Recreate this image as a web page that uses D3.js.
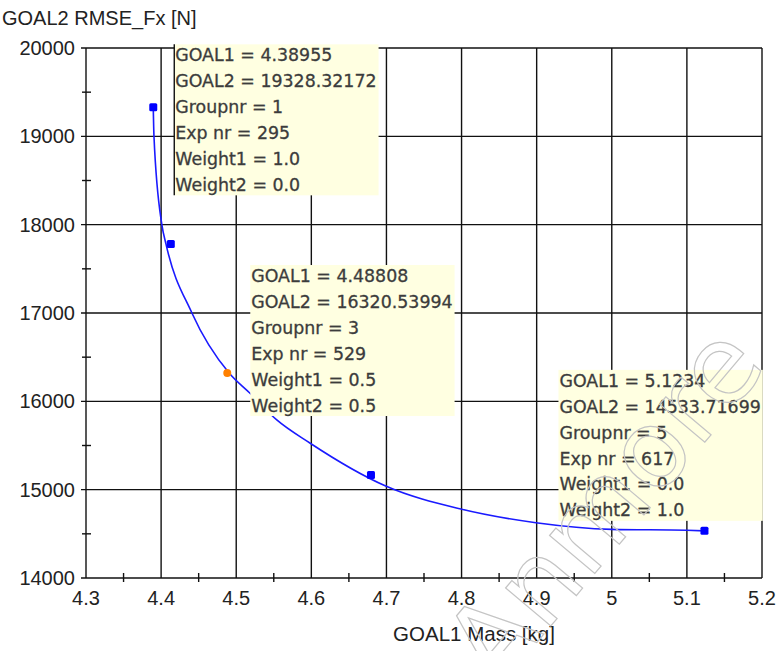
<!DOCTYPE html>
<html>
<head>
<meta charset="utf-8">
<script src="https://cdn.jsdelivr.net/npm/d3@7"></script>
<style>
  body { margin: 0; background: #fff; }
  svg { display: block; }
</style>
</head>
<body>
<div id="chart"></div>
<script>
// Define constants
const WIDTH = 777;
const HEIGHT = 651;

// Pareto points (GOAL1 mass, GOAL2 RMSE)
const pointGoal1 = [4.38955, 4.4129, 4.48808, 4.6794, 5.1234];
const pointGoal2 = [19328.32172, 17781, 16320.53994, 15166, 14533.71699];
const pointSelected = [false, false, true, false, false];

// fitted front
const frontGoal1 = [4.38955, 4.3905, 4.401, 4.4065, 4.441, 4.4905, 4.518, 4.554, 4.598, 4.699, 4.799, 4.899, 5.0, 5.1, 5.1234];
const frontGoal2 = [19328, 19000, 18000, 17780, 17000, 16320, 16094, 15789, 15528, 15041, 14781, 14626, 14551, 14540, 14533.7];

// tooltips
const tipPoint = [0, 2, 4];
const tipGoal1 = ["4.38955", "4.48808", "5.1234"];
const tipGoal2 = ["19328.32172", "16320.53994", "14533.71699"];
const tipGroup = ["1", "3", "5"];
const tipExp = ["295", "529", "617"];
const tipWeight1 = ["1.0", "0.5", "0.0"];
const tipWeight2 = ["0.0", "0.5", "1.0"];

// axes
const xTicks = [4.3, 4.4, 4.5, 4.6, 4.7, 4.8, 4.9, 5, 5.1, 5.2];
const yTicks = [14000, 15000, 16000, 17000, 18000, 19000, 20000];
const xTitle = "GOAL1 Mass [kg]";
const yTitle = "GOAL2 RMSE_Fx [N]";
const watermark = "Anmore";

const svg = d3.select("#chart")
  .append("svg")
  .attr("width", WIDTH)
  .attr("height", HEIGHT);

const x = d3.scaleLinear().domain([4.3, 5.2]).range([86, 762]);
const y = d3.scaleLinear().domain([14000, 20000]).range([578, 48]);

const AXIS_FONT = "'Liberation Sans', Arial, sans-serif";

// Grid lines
svg.append("g")
  .selectAll("line")
  .data(xTicks)
  .join("line")
  .attr("x1", d => x(d)).attr("x2", d => x(d))
  .attr("y1", y(20000)).attr("y2", y(14000))
  .attr("stroke", "#111").attr("stroke-width", 1.4);

svg.append("g")
  .selectAll("line")
  .data(yTicks)
  .join("line")
  .attr("x1", x(4.3) - 5).attr("x2", x(5.2))
  .attr("y1", d => y(d)).attr("y2", d => y(d))
  .attr("stroke", "#111").attr("stroke-width", 1.4);

// minor ticks
const xMinor = d3.range(0, xTicks.length - 1).map(i => (xTicks[i] + xTicks[i + 1]) / 2);
const yMinor = d3.range(0, yTicks.length - 1).map(i => (yTicks[i] + yTicks[i + 1]) / 2);

svg.append("g")
  .selectAll("line")
  .data(xMinor)
  .join("line")
  .attr("x1", d => x(d)).attr("x2", d => x(d))
  .attr("y1", y(14000) - 5).attr("y2", y(14000) + 4)
  .attr("stroke", "#111").attr("stroke-width", 1.4);

svg.append("g")
  .selectAll("line")
  .data(yMinor)
  .join("line")
  .attr("x1", x(4.3) - 4).attr("x2", x(4.3) + 5)
  .attr("y1", d => y(d)).attr("y2", d => y(d))
  .attr("stroke", "#111").attr("stroke-width", 1.4);

// Tick labels
svg.append("g")
  .selectAll("text")
  .data(xTicks)
  .join("text")
  .attr("x", d => x(d))
  .attr("y", y(14000) + 27)
  .attr("text-anchor", "middle")
  .style("font", `20px ${AXIS_FONT}`)
  .attr("fill", "#222")
  .text(d => d);

svg.append("g")
  .selectAll("text")
  .data(yTicks)
  .join("text")
  .attr("x", x(4.3) - 11)
  .attr("y", d => y(d) + 7)
  .attr("text-anchor", "end")
  .style("font", `20px ${AXIS_FONT}`)
  .attr("fill", "#222")
  .text(d => d);

// Axis titles
svg.append("text")
  .attr("x", 474).attr("y", 641)
  .attr("text-anchor", "middle")
  .style("font", `20.5px ${AXIS_FONT}`)
  .attr("fill", "#222")
  .text(xTitle);

svg.append("text")
  .attr("x", 2).attr("y", 25)
  .style("font", `20px ${AXIS_FONT}`)
  .attr("fill", "#222")
  .text(yTitle);

// Front curve
const frontData = frontGoal1.map((g, i) => [g, frontGoal2[i]]);
svg.append("path")
  .datum(frontData)
  .attr("fill", "none")
  .attr("stroke", "#1a1aff")
  .attr("stroke-width", 1.6)
  .attr("d", d3.line().x(d => x(d[0])).y(d => y(d[1])).curve(d3.curveMonotoneX));

// Points
const points = pointGoal1.map((g, i) => ({ g1: g, g2: pointGoal2[i], sel: pointSelected[i] }));
svg.append("g")
  .selectAll("rect")
  .data(points.filter(d => !d.sel))
  .join("rect")
  .attr("x", d => x(d.g1) - 4).attr("y", d => y(d.g2) - 4)
  .attr("width", 8).attr("height", 8)
  .attr("rx", 1.5)
  .attr("fill", "#0000ff");

svg.append("g")
  .selectAll("circle")
  .data(points.filter(d => d.sel))
  .join("circle")
  .attr("cx", d => x(d.g1)).attr("cy", d => y(d.g2))
  .attr("r", 4)
  .attr("fill", "#ff8000");

// Tooltip boxes
const tipOffset = [[21, -63], [23, -108], [-146, -161]];
tipPoint.forEach((pi, k) => {
  const p = points[pi];
  const left = x(p.g1) + tipOffset[k][0];
  const top = y(p.g2) + tipOffset[k][1];
  const lines = [
    `GOAL1 = ${tipGoal1[k]}`,
    `GOAL2 = ${tipGoal2[k]}`,
    `Groupnr = ${tipGroup[k]}`,
    `Exp nr = ${tipExp[k]}`,
    `Weight1 = ${tipWeight1[k]}`,
    `Weight2 = ${tipWeight2[k]}`
  ];
  const g = svg.append("g");
  const rect = g.append("rect")
    .attr("x", left).attr("y", top)
    .attr("height", 151)
    .attr("fill", "#ffffe1");
  const texts = g.selectAll("text")
    .data(lines)
    .join("text")
    .attr("x", left + 1)
    .attr("y", (d, i) => top + 17 + i * 25.9)
    .style("font", "17.4px 'DejaVu Sans', Verdana, sans-serif")
    .attr("fill", "#3c3c3c")
    .attr("stroke", "#3c3c3c")
    .attr("stroke-width", 0.3)
    .text(d => d);
  let w = 0;
  texts.each(function () { w = Math.max(w, this.getComputedTextLength()); });
  rect.attr("width", w + 3);
  if (k === 0) {
    g.append("line")
      .attr("x1", left).attr("x2", left)
      .attr("y1", top).attr("y2", top + 151)
      .attr("stroke", "#111").attr("stroke-width", 1.4);
  }
});

// Watermark
svg.append("text")
  .attr("transform", "translate(497,690) rotate(-50)")
  .style("font", "108px 'DejaVu Sans', sans-serif")
  .attr("fill", "none")
  .attr("stroke", "#c4c4c4")
  .attr("stroke-width", 1.2)
  .text(watermark);
</script>
</body>
</html>
